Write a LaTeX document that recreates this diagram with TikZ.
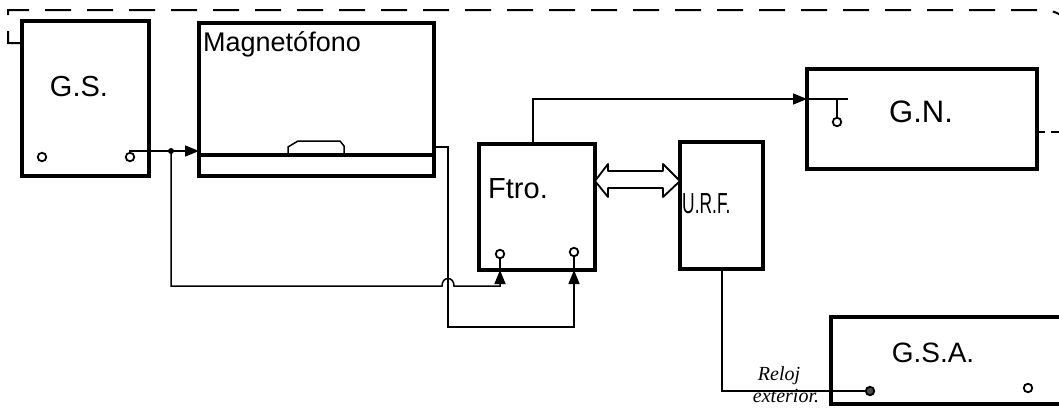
\documentclass[tikz,border=0pt]{standalone}
\usepackage{fontspec}
\setmainfont{Liberation Sans}
\newfontfamily\handfont{Liberation Serif}
\usetikzlibrary{arrows.meta}
\tikzset{
  blk/.style={draw, line width=4.2pt, anchor=north west, inner sep=0pt, outer sep=0pt},
  wire/.style={line width=1.5pt},
  dashline/.style={line width=2pt, dash pattern=on 26pt off 16pt},
  arr/.style={-{Triangle[length=14pt,width=11pt]}},
  term/.style={circle, draw, line width=1.8pt, inner sep=0pt, minimum size=8.5pt, fill=white},
  lbl/.style={font=\fontsize{29}{31}\selectfont, inner sep=0pt},
  small/.style={font=\handfont\itshape\fontsize{20}{22}\selectfont, inner sep=0pt}
}
\begin{document}
\begin{tikzpicture}[x=1pt, y=-1pt]
\useasboundingbox (0,0) rectangle (1059,407);
\clip (0,0) rectangle (1059,407);

% blocks
\node[blk, minimum width=127pt, minimum height=155pt] (gs) at (22,21) {};
\node[blk, minimum width=235pt, minimum height=153pt] (mag) at (199,23) {};
\node[blk, minimum width=116pt, minimum height=126pt] (ftro) at (479,144) {};
\node[blk, minimum width=83pt, minimum height=127pt] (urf) at (680,142) {};
\node[blk, minimum width=230pt, minimum height=100pt] (gn) at (807,69) {};
\node[blk, minimum width=240pt, minimum height=87pt] (gsa) at (831,317) {};

% labels
\node[lbl] (gsl) at (79,87) {G.S.};
\node[lbl, anchor=west, font=\fontsize{27}{29}\selectfont] (magl) at (203,44) {Magnetófono};
\node[lbl, font=\fontsize{29}{31}\selectfont] (ftrol) at (518,189) {Ftro.};
\node[lbl, anchor=west] (urfl) at (682,204) {\scalebox{0.6}[1]{U.R.F.}};
\node[lbl, font=\fontsize{31}{33}\selectfont] (gnl) at (921,112) {G.N.};
\node[lbl, font=\fontsize{28}{30}\selectfont] (gsal) at (933,353) {G.S.A.};
\node[small] (reloj) at (779,376) {Reloj};
\node[small] (ext) at (786,396) {exterior.};

% tape deck detail
\draw[line width=3.6pt] (mag.west |- 0,155) -- (mag.east |- 0,155);
\draw[wire] (288,154) -- (288,147) -- (298,141) -- (340,141) -- (344,146) -- (344,154);

% terminals
\node[term] (gst1) at (42,157) {};
\node[term] (gst2) at (130,157) {};
\node[term] (ft1) at (500,254) {};
\node[term] (ft2) at (574,252) {};
\node[term] (gnt) at (837,122) {};
\node[term, fill=black!70] (gsat1) at (870,391) {};
\node[term] (gsat2) at (1028,388) {};

% stems inside Ftro
\draw[wire] (ft1.south) -- (ft1 |- ftro.south);
\draw[wire] (ft2.south) -- (ft2 |- ftro.south);

% G.S. to tape deck
\coordinate (j1) at (171,151);
\draw[wire, arr] (gst2.north) |- (mag.west |- j1);
\fill (j1) circle (3pt);

% junction to Ftro input 1 (with hop)
\draw[wire, arr] (j1) -- (171,286) -- (442,286)
  .. controls (442,276) and (454,276) .. (454,286) -- (500,286) -- (ft1 |- ftro.south);

% tape deck output to Ftro input 2
\draw[wire, arr] (mag.east |- 0,147) -- (448,147) -- (448,327) -- (574,327) -- (ft2 |- ftro.south);

% Ftro to G.N.
\draw[wire, arr] (ftro.north -| 533,0) -- (533,99) -- (gn.west |- 0,99);
\draw[wire] (gn.west |- 0,99) -- (848,99);
\draw[wire] (837,99) -- (gnt.north);

% U.R.F. to G.S.A.
\draw[wire] (urf.south -| 722,0) -- (722,391) -- (gsat1.west);

% bidirectional hollow arrow Ftro <-> U.R.F.
\draw[line width=1.8pt, fill=white, line join=round]
  (ftro.east |- 0,181) -- (608,164) -- (608,171) -- (663,171) -- (663,164)
  -- (urf.west |- 0,181) -- (663,197) -- (663,188) -- (608,188) -- (608,197) -- cycle;

% dashed loop
\draw[dashline] (gs.west |- 0,43) -- (8,43) -- (8,10) -- (1040,10)
  .. controls (1052,10) and (1058,13) .. (1062,16);
\draw[dashline, dash pattern=on 8pt off 6pt] (gn.east |- 0,132) -- (1059,132);
\end{tikzpicture}
\end{document}
